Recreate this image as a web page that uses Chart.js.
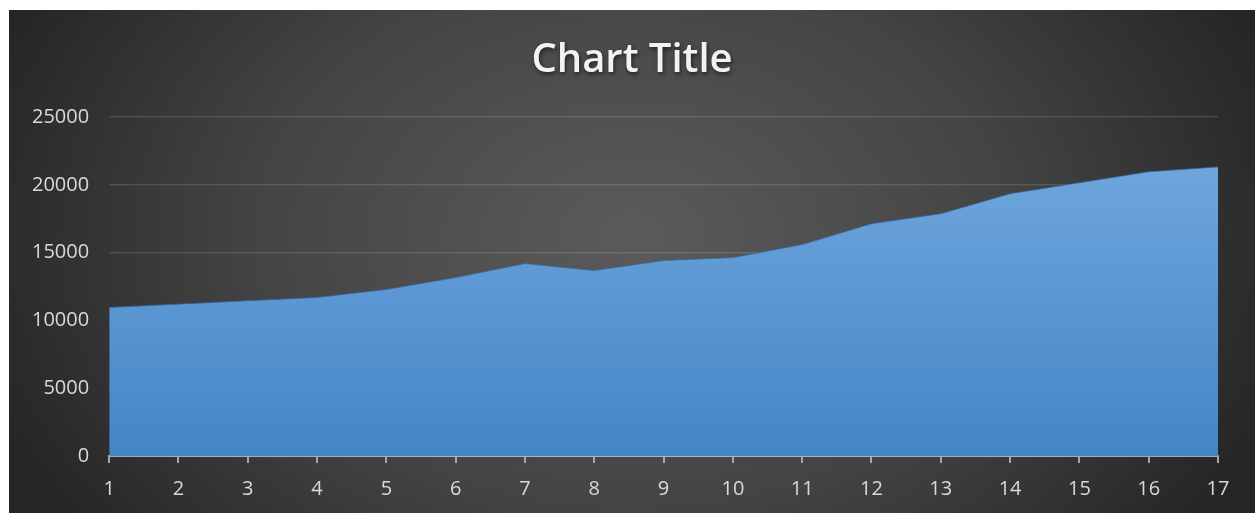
<!DOCTYPE html>
<html>
<head>
<meta charset="utf-8">
<script src="https://cdn.jsdelivr.net/npm/chart.js@4.4.1/dist/chart.umd.min.js"></script>
<style>
  html, body { margin: 0; padding: 0; background: #fff; }
  #wrap { position: absolute; left: 9px; top: 10px; width: 1246px; height: 503px; }
</style>
</head>
<body>
<div id="wrap"><canvas id="areaChart"></canvas></div>
<script>
const categories = ["1","2","3","4","5","6","7","8","9","10","11","12","13","14","15","16","17"];
const seriesValues = [10960, 11200, 11450, 11690, 12280, 13160, 14190, 13680, 14410, 14630, 15590, 17130, 17870, 19340, 20150, 20960, 21320];
const chartTitle = "Chart Title";

// dark radial background + title with shadow
const bgPlugin = {
    id: "bg",
    beforeDraw(chart) {
        const ctx = chart.ctx;
        const w = chart.width, h = chart.height;
        ctx.save();
        ctx.translate(w * 0.5, h * 0.45);
        ctx.scale(1, 0.72);
        const g = ctx.createRadialGradient(0, 0, 0, 0, 0, 680);
        g.addColorStop(0, "#5b5b5b");
        g.addColorStop(0.55, "#444444");
        g.addColorStop(1, "#262626");
        ctx.fillStyle = g;
        ctx.fillRect(-w, -h * 2, w * 2, h * 4);
        ctx.restore();
    },
    afterDraw(chart) {
        const ctx = chart.ctx;
        ctx.save();
        ctx.font = "600 40px 'Open Sans'";
        ctx.textAlign = "center";
        ctx.textBaseline = "alphabetic";
        ctx.shadowColor = "rgba(0,0,0,0.6)";
        ctx.shadowBlur = 4;
        ctx.shadowOffsetX = 1;
        ctx.shadowOffsetY = 2;
        ctx.fillStyle = "#f2f2f2";
        ctx.fillText(chartTitle, chart.width / 2, 62);
        ctx.restore();
    }
};

new Chart("areaChart", {
    type: "line",
    data: {
        labels: categories,
        datasets: [{
            data: seriesValues,
            fill: "origin",
            tension: 0,
            pointRadius: 0,
            borderWidth: 1,
            borderColor: "rgba(55,100,155,0.7)",
            backgroundColor: function(context) {
                const area = context.chart.chartArea;
                if (!area) return "#5b9bd5";
                const g = context.chart.ctx.createLinearGradient(0, area.top, 0, area.bottom);
                g.addColorStop(0, "#76aae0");
                g.addColorStop(1, "#4386c6");
                return g;
            }
        }]
    },
    options: {
        responsive: true,
        maintainAspectRatio: false,
        animation: false,
        layout: { padding: { top: 107, right: 37, left: 3, bottom: -2 } },
        plugins: {
            legend: { display: false },
            title: { display: false },
            tooltip: { enabled: false }
        },
        scales: {
            x: {
                offset: false,
                grid: { drawOnChartArea: false, drawTicks: true, tickLength: 7, color: "#a6a6a6", lineWidth: 2 },
                border: { color: "rgba(200,210,225,0.75)", width: 2 },
                ticks: { color: "#d9d9d9", font: { family: "'Open Sans'", size: 20 }, padding: 14, maxRotation: 0 }
            },
            y: {
                min: 0,
                max: 25000,
                ticks: {
                    stepSize: 5000, color: "#d9d9d9", font: { family: "'Open Sans'", size: 20 }, padding: 20,
                    callback: function(v) { return String(v); }
                },
                grid: { color: "rgba(255,255,255,0.13)", lineWidth: 1.5, drawTicks: false },
                border: { display: false }
            }
        }
    },
    plugins: [bgPlugin]
});
</script>
</body>
</html>
